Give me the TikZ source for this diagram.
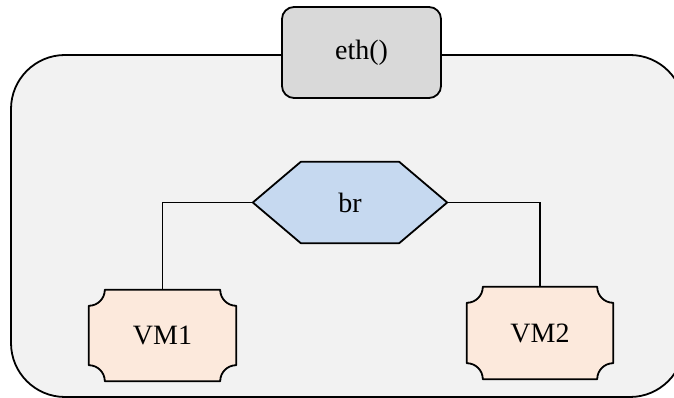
\documentclass[tikz,border=0pt]{standalone}
\usepackage{fontspec}
\setmainfont{Liberation Serif}
\usetikzlibrary{calc}
\definecolor{hostfill}{HTML}{F2F2F2}
\definecolor{ethfill}{HTML}{D9D9D9}
\definecolor{brfill}{HTML}{C6D9F0}
\definecolor{vmfill}{HTML}{FCE9DC}
\tikzset{
  shapeline/.style={draw=black, line width=1.8pt, line join=round},
  wire/.style={draw=black, line width=1.3pt},
  label/.style={font=\fontsize{28}{32}\selectfont, inner sep=0pt},
}
\begin{document}
\begin{tikzpicture}[x=1pt, y=1pt]
\useasboundingbox (0,0) rectangle (674,398);
\clip (0,0) rectangle (674,398);

% host container
\draw[shapeline, fill=hostfill, rounded corners=54pt] (11,1) rectangle (684,343);

% external interface
\node[label, minimum width=159pt, minimum height=91pt, shapeline, fill=ethfill,
      rounded corners=12pt] (eth) at (361.5,345.5) {eth()};

% bridge (hexagon drawn around its node)
\node[label, minimum width=194pt, minimum height=81pt] (br) at (350,195.5) {};
\draw[shapeline, fill=brfill]
  (br.west) -- ([xshift=48pt]br.north west) -- ([xshift=-48pt]br.north east)
  -- (br.east) -- ([xshift=-48pt]br.south east) -- ([xshift=48pt]br.south west) -- cycle;
\node[label] at (br.center) {br};

% virtual machines with concave corners
\node[label, minimum width=147pt, minimum height=91pt] (vm1) at (162.5,62.5) {};
\node[label, minimum width=146pt, minimum height=92pt] (vm2) at (540,65) {};
\foreach \v in {vm1,vm2}{
  \draw[shapeline, fill=vmfill]
    ([xshift=16pt]\v.north west) -- ([xshift=-16pt]\v.north east)
    arc[start angle=180, end angle=270, radius=16pt]
    -- ([yshift=16pt]\v.south east)
    arc[start angle=90, end angle=180, radius=16pt]
    -- ([xshift=16pt]\v.south west)
    arc[start angle=0, end angle=90, radius=16pt]
    -- ([yshift=-16pt]\v.north west)
    arc[start angle=270, end angle=360, radius=16pt] -- cycle;
}
\node[label] at (vm1.center) {VM1};
\node[label] at (vm2.center) {VM2};

% links from the bridge to the machines
\draw[wire] (br.west) -| (vm1.north);
\draw[wire] (br.east) -| (vm2.north);
\end{tikzpicture}
\end{document}
